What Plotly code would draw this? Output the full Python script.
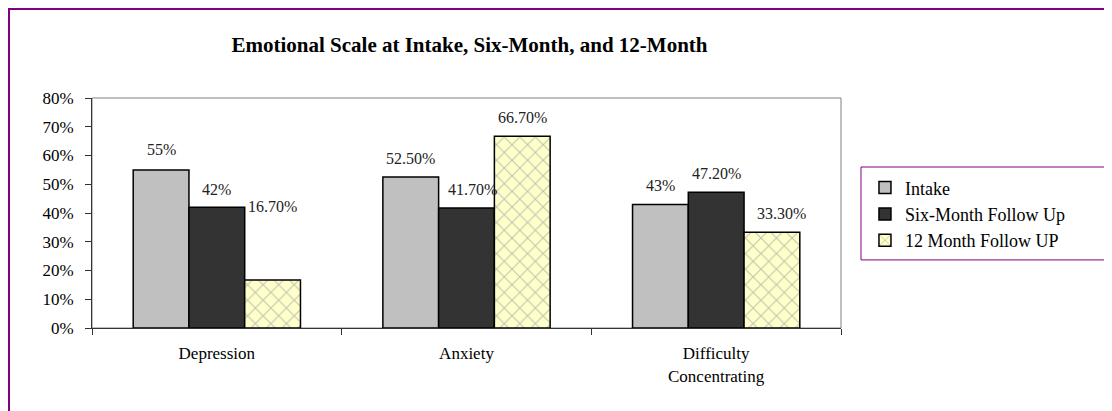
import plotly.graph_objects as go

# Data
categories = ['Depression', 'Anxiety', 'Difficulty<br>Concentrating']
intake = [0.55, 0.525, 0.43]
six_month = [0.42, 0.417, 0.472]
twelve_month = [0.167, 0.667, 0.333]

intake_labels = ['55%', '52.50%', '43%']
six_labels = ['42%', '41.70%', '47.20%']
twelve_labels = ['16.70%', '66.70%', '33.30%']

serif = 'Liberation Serif, Times New Roman, serif'

fig = go.Figure()

fig.add_trace(go.Bar(
    x=categories, y=intake, name='Intake',
    marker=dict(color='#C0C0C0', line=dict(color='black', width=1.5))
))
fig.add_trace(go.Bar(
    x=categories, y=six_month, name='Six-Month Follow Up',
    marker=dict(color='#333333', line=dict(color='black', width=1.5))
))
fig.add_trace(go.Bar(
    x=categories, y=twelve_month, name='12 Month Follow UP',
    marker=dict(color='#FFFFCC', line=dict(color='black', width=1.5),
                pattern=dict(shape='x', fgcolor='#8C8C8C', bgcolor='#FFFFCC',
                             size=11, solidity=0.2))
))

# data labels, placed roughly where Excel put them
bargap = 0.33
w = (1 - bargap) / 3
label_sets = [(intake, intake_labels, -w, [20, 19, 19]),
              (six_month, six_labels, 0, [18, 19, 19]),
              (twelve_month, twelve_labels, w, [73, 19, 19])]
annotations = []
for vals, texts, off, shifts in label_sets:
    for i, (v, t, s) in enumerate(zip(vals, texts, shifts)):
        dx = 6 if (off == 0 and i == 1) else (10 if (off == w and i == 2) else 0)
        annotations.append(dict(
            x=i + off, y=v, xref='x', yref='y', text=t, showarrow=False,
            yanchor='middle', yshift=s, xshift=dx,
            font=dict(family=serif, size=16, color='#222')
        ))

fig.update_layout(
    width=1112, height=411,
    margin=dict(l=84, r=279, t=90, b=91),
    paper_bgcolor='white', plot_bgcolor='white',
    barmode='group', bargap=bargap, bargroupgap=0,
    title=dict(text='<b>Emotional Scale at Intake, Six-Month, and 12-Month</b>',
               x=0.415, xanchor='center', y=0.91, yanchor='middle',
               font=dict(family=serif, size=21, color='black')),
    font=dict(family=serif, size=16, color='black'),
    legend=dict(x=1.032, y=0.69, xanchor='left', yanchor='top',
                borderwidth=0, bgcolor='rgba(0,0,0,0)',
                font=dict(family=serif, size=18, color='black'),
                tracegroupgap=0),
    showlegend=True,
    annotations=annotations,
    shapes=[
        # gray plot area frame
        dict(type='rect', xref='paper', yref='paper', x0=0, y0=0, x1=1, y1=1,
             line=dict(color='#808080', width=1), layer='below'),
        # legend box (runs off the right edge like the original)
        dict(type='rect', xref='paper', yref='paper', x0=1.0267, y0=0.296,
             x1=1.5, y1=0.70, line=dict(color='#800080', width=1),
             fillcolor='white', layer='below'),
        # purple outer chart border
        dict(type='rect', xref='paper', yref='paper', x0=-0.1108, y0=-0.8,
             x1=1.6, y1=1.387, line=dict(color='#800080', width=2)),
    ],
)

fig.update_yaxes(range=[0, 0.8], dtick=0.1, tickformat='.0%',
                 showgrid=False, zeroline=False,
                 showline=True, linecolor='#333', linewidth=1,
                 ticks='outside', ticklen=6, tickcolor='#333',
                 ticklabelstandoff=8,
                 tickfont=dict(family=serif, size=17, color='black'))
fig.update_xaxes(showgrid=False, showline=True, linecolor='#333', linewidth=1,
                 ticks='outside', ticklen=6, tickcolor='#333',
                 tickson='boundaries', ticklabelstandoff=10,
                 tickfont=dict(family=serif, size=17, color='black'))

fig.write_html('out.html')
